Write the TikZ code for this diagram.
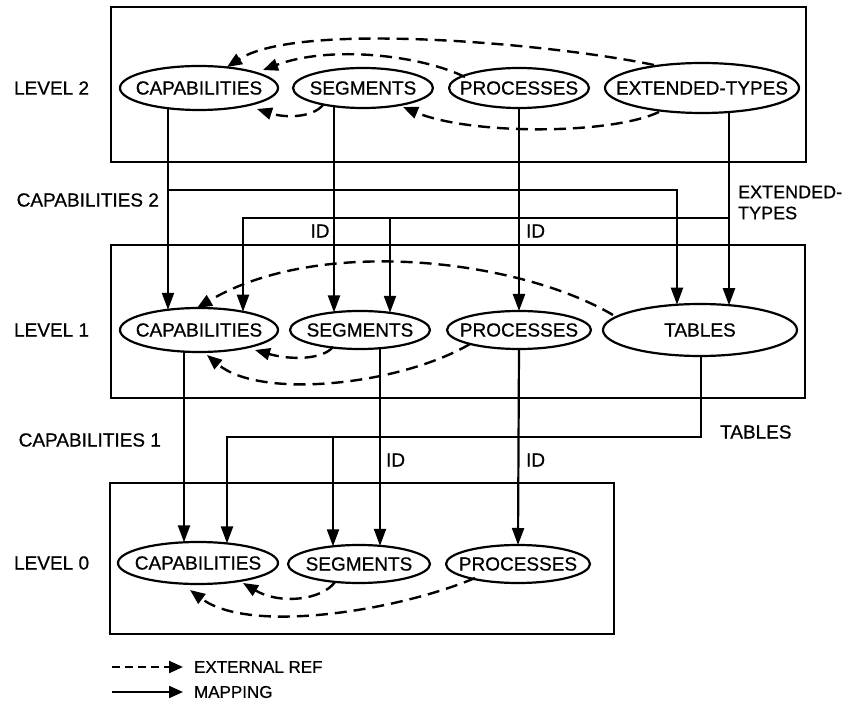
\documentclass[tikz,border=0pt]{standalone}
\usepackage{fontspec}
\setmainfont{Liberation Sans}[FakeBold=0.7]
\usetikzlibrary{arrows.meta,calc}
\begin{document}
\begin{tikzpicture}[x=1pt,y=-1pt,line width=2.2pt,
  every node/.style={inner sep=0pt,font=\fontsize{19}{21}\selectfont},
  keytext/.style={anchor=west,font=\fontsize{17}{19}\selectfont},
  sidetext/.style={anchor=west,font=\fontsize{18}{20}\selectfont},
  frame/.style={line width=2.2pt},
  oval/.style={line width=2.2pt},
  map/.style={-{Triangle[length=17pt,width=12pt]}},
  extref/.style={line width=2.4pt,dash pattern=on 12pt off 7pt,-{Triangle[length=15pt,width=12pt]}}]
\useasboundingbox (0,0) rectangle (847,703);

% level frames
\draw[frame] (111,7) rectangle (806,162);
\draw[frame] (111,245) rectangle (805,398);
\draw[frame] (110,483) rectangle (614,634);

% level captions
\node[anchor=west] (lv2) at (13,88) {LEVEL 2};
\node[anchor=west] (lv1) at (13,330) {LEVEL 1};
\node[anchor=west] (lv0) at (13,563) {LEVEL 0};

% level 2 objects
\node (cap2) at (199,88) {CAPABILITIES};
\node (seg2) at (363,88) {SEGMENTS};
\node (proc2) at (519,88) {PROCESSES};
\node (ext2) at (702,88) {EXTENDED-TYPES};
\draw[oval] (cap2) ellipse [x radius=79,y radius=22];
\draw[oval] (seg2) ellipse [x radius=70,y radius=20];
\draw[oval] (proc2) ellipse [x radius=70,y radius=20];
\draw[oval] (ext2) ellipse [x radius=97,y radius=25];

% level 1 objects
\node (cap1) at (199,330) {CAPABILITIES};
\node (seg1) at (360,330) {SEGMENTS};
\node (proc1) at (519,330) {PROCESSES};
\node (tab1) at (700,330) {TABLES};
\draw[oval] (cap1) ellipse [x radius=79,y radius=22];
\draw[oval] (seg1) ellipse [x radius=70,y radius=19];
\draw[oval] (proc1) ellipse [x radius=72,y radius=19];
\draw[oval] (tab1) ellipse [x radius=97,y radius=26];

% level 0 objects
\node (cap0) at (198,563) {CAPABILITIES};
\node (seg0) at (359,564) {SEGMENTS};
\node (proc0) at (518,564) {PROCESSES};
\draw[oval] (cap0) ellipse [x radius=80,y radius=21];
\draw[oval] (seg0) ellipse [x radius=71,y radius=19];
\draw[oval] (proc0) ellipse [x radius=72,y radius=19];

% junction points of the mapping lines
\coordinate (c2bend) at (677,190);
\coordinate (c2join) at (168,190);
\coordinate (etjoin) at (729,218);
\coordinate (etleft) at (243,218);
\coordinate (etseg) at (390,218);
\coordinate (tbdown) at (701,437);
\coordinate (tbleft) at (227,437);
\coordinate (tbseg) at (333,437);

% mappings level 2 -> level 1
\draw[map] ($(cap2)+(-31,20.2)$) -- ($(cap1)+(-31,-20.2)$);
\draw[map] (c2join) -- (c2bend) -- ($(tab1)+(-23,-25.3)$);
\draw[map] ($(seg2)+(-29,18.2)$) -- ($(seg1)+(-26,-17.6)$);
\draw[map] ($(proc2)+(0,20)$) -- ($(proc1)+(0,-19)$);
\draw[map] ($(ext2)+(27,24)$) -- ($(tab1)+(29,-24.8)$);
\draw[map] (etjoin) -- (etleft) -- ($(cap1)+(44,-18.3)$);
\draw[map] (etseg) -- ($(seg1)+(30,-17.2)$);

% mappings level 1 -> level 0
\draw[map] ($(cap1)+(-15,21.6)$) -- ($(cap0)+(-14,-20.7)$);
\draw[map] ($(tab1)+(1,26)$) -- (tbdown) -- (tbleft) -- ($(cap0)+(29,-19.6)$);
\draw[map] (tbseg) -- ($(seg0)+(-26,-17.7)$);
\draw[map] ($(seg1)+(20,18.2)$) -- ($(seg0)+(21,-18.2)$);
\draw[map] ($(proc1)+(0,19)$) -- ($(proc0)+(0,-19)$);

% mapping labels
\node[anchor=east] (c2lbl) at (160,200) {CAPABILITIES 2};
\node[anchor=east] (c1lbl) at (162,440) {CAPABILITIES 1};
\node[sidetext] (etlbl1) at (737,192) {EXTENDED-};
\node[sidetext] (etlbl2) at (737,213) {TYPES};
\node[anchor=west] (tblbl) at (719,432) {TABLES};
\node (id1) at (320,231) {ID};
\node[anchor=west] (id2) at (525,231) {ID};
\node[anchor=west] (id3) at (385,460) {ID};
\node[anchor=west] (id4) at (525,460) {ID};

% external references, level 2
\draw[extref] ($(ext2)+(-48,-23)$) .. controls (560,45) and (300,20) .. ($(cap2)+(28,-21)$);
\draw[extref] ($(proc2)+(-54,-11)$) .. controls (420,55) and (330,45) .. ($(cap2)+(64,-18)$);
\draw[extref] ($(seg2)+(-40,17)$) .. controls (312,118) and (285,118) .. ($(cap2)+(58,21)$);
\draw[extref] ($(ext2)+(-43,24)$) .. controls (610,135) and (470,135) .. ($(seg2)+(40,19)$);

% external references, level 1
\draw[extref] ($(tab1)+(-87,-15)$) .. controls (520,260) and (320,235) .. ($(cap1)+(-2,-22)$);
\draw[extref] ($(seg1)+(-27,17)$) .. controls (322,360) and (290,360) .. ($(cap1)+(56,20)$);
\draw[extref] ($(proc1)+(-49,14)$) .. controls (400,385) and (260,400) .. ($(cap1)+(8,25)$);

% external references, level 0
\draw[extref] ($(seg0)+(-24,18)$) .. controls (322,600) and (280,605) .. ($(cap0)+(45,20)$);
\draw[extref] ($(proc0)+(-43,14)$) .. controls (400,610) and (250,635) .. ($(cap0)+(-8,27)$);

% key
\coordinate (k1a) at (112,667);
\coordinate (k1b) at (183,667);
\coordinate (k2a) at (112,692);
\coordinate (k2b) at (183,692);
\draw[line width=2.4pt,dash pattern=on 8pt off 5pt,-{Triangle[length=14pt,width=12pt]}] (k1a) -- (k1b);
\draw[-{Triangle[length=14pt,width=12pt]}] (k2a) -- (k2b);
\node[keytext] (k1t) at (193,667) {EXTERNAL REF};
\node[keytext] (k2t) at (193,692) {MAPPING};
\end{tikzpicture}
\end{document}
